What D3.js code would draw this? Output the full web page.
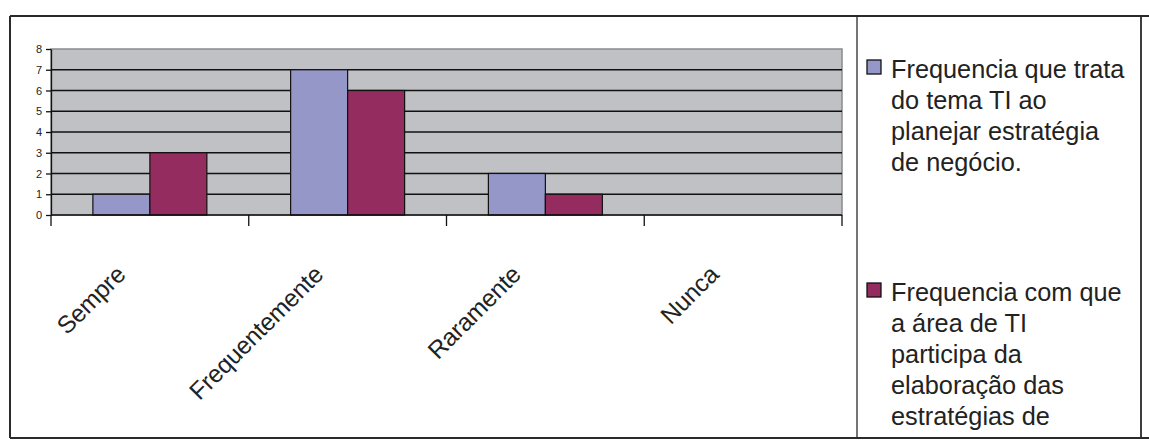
<!DOCTYPE html>
<html>
<head>
<meta charset="utf-8">
<script src="https://cdn.jsdelivr.net/npm/d3@7"></script>
<style>
  body { margin: 0; background: #fff; }
  text { font-family: "Liberation Sans", Arial, sans-serif; fill: #222; }
</style>
</head>
<body>
<script>
// Data.
const categories = ['Sempre', 'Frequentemente', 'Raramente', 'Nunca'];
const serieTrata = [1, 7, 2, 0];
const serieParticipa = [3, 6, 1, 0];
const yTicks = [0, 1, 2, 3, 4, 5, 6, 7, 8];
// Legend labels, wrapped as in the picture (the second one is cut by the cell border).
const legendTrata = ['Frequencia que trata', 'do tema TI ao', 'planejar estratégia', 'de negócio.'];
const legendParticipa = ['Frequencia com que', 'a área de TI', 'participa da', 'elaboração das', 'estratégias de'];

const colors = ['#9597c9', '#952c60'];
const series = [serieTrata, serieParticipa];

const width = 1149;
const height = 442;

// Plot area.
const plotLeft = 51;
const plotRight = 842;
const plotTop = 49;
const plotBottom = 215;

const svg = d3.select('body')
  .append('svg')
  .attr('width', width)
  .attr('height', height);

svg.append('rect')
  .attr('width', width)
  .attr('height', height)
  .attr('fill', '#fff');

// Scales.
const x0 = d3.scaleBand()
  .domain(categories)
  .range([plotLeft, plotRight]);
const x1 = d3.scaleBand()
  .domain([0, 1])
  .range([0, x0.bandwidth()])
  .paddingInner(0)
  .paddingOuter(0.735);
const y = d3.scaleLinear()
  .domain([0, 8])
  .range([plotBottom, plotTop]);

// Plot background.
svg.append('rect')
  .attr('x', plotLeft)
  .attr('y', y(8))
  .attr('width', plotRight - plotLeft)
  .attr('height', y(0) - y(8))
  .attr('fill', '#c0c1c5')
  .attr('stroke', '#8a8a8a')
  .attr('stroke-width', 1.5);

// Gridlines.
svg.append('g')
  .selectAll('line')
  .data(yTicks.filter((d) => d > 0 && d < 8))
  .enter()
  .append('line')
  .attr('x1', plotLeft)
  .attr('x2', plotRight)
  .attr('y1', (d) => y(d))
  .attr('y2', (d) => y(d))
  .attr('stroke', '#111')
  .attr('stroke-width', 1.3);

// Bars.
series.forEach((values, s) =>
{
  svg.append('g')
    .selectAll('rect')
    .data(values.map((v, i) => ({ cat: categories[i], value: v })).filter((d) => d.value > 0))
    .enter()
    .append('rect')
    .attr('x', (d) => x0(d.cat) + x1(s))
    .attr('y', (d) => y(d.value))
    .attr('width', x1.bandwidth())
    .attr('height', (d) => y(0) - y(d.value))
    .attr('fill', colors[s])
    .attr('stroke', '#111')
    .attr('stroke-width', 1.2);
});

// Y axis.
const yAxis = d3.axisLeft(y)
  .tickValues(yTicks)
  .tickSize(5)
  .tickSizeOuter(0)
  .tickPadding(4);

const gy = svg.append('g')
  .attr('transform', 'translate(' + plotLeft + ',0)')
  .call(yAxis);
gy.select('.domain').attr('stroke', '#111').attr('stroke-width', 1.3);
gy.selectAll('.tick line').attr('stroke', '#111').attr('stroke-width', 1.3);
gy.selectAll('.tick text')
  .style('font-family', '"Liberation Sans", Arial, sans-serif')
  .style('font-size', '11px')
  .attr('fill', '#222');

// X axis: line plus ticks at the category boundaries.
svg.append('line')
  .attr('x1', plotLeft)
  .attr('x2', plotRight)
  .attr('y1', y(0))
  .attr('y2', y(0))
  .attr('stroke', '#111')
  .attr('stroke-width', 1.5);

const boundaries = categories.map((c) => x0(c)).concat([x0.range()[1]]);
svg.append('g')
  .selectAll('line')
  .data(boundaries)
  .enter()
  .append('line')
  .attr('x1', (d) => d)
  .attr('x2', (d) => d)
  .attr('y1', y(0))
  .attr('y2', y(0) + 11)
  .attr('stroke', '#111')
  .attr('stroke-width', 1.3);

svg.append('g')
  .selectAll('text')
  .data(categories)
  .enter()
  .append('text')
  .attr('transform', (d) => 'translate(' + (x0(d) + x0.bandwidth() / 2 - 23) + ',' + 276 + ') rotate(-45)')
  .attr('text-anchor', 'end')
  .style('font-size', '24.5px')
  .style('letter-spacing', '-0.2px')
  .text((d) => d);

// Frame (table cells).
const frame = svg.append('g')
  .attr('stroke', '#2a2a2a')
  .attr('fill', 'none');
frame.append('line').attr('x1', 10).attr('x2', width).attr('y1', 16).attr('y2', 16).attr('stroke-width', 2);
frame.append('line').attr('x1', 10).attr('x2', width).attr('y1', 438).attr('y2', 438).attr('stroke-width', 2);
frame.append('line').attr('x1', 10).attr('x2', 10).attr('y1', 16).attr('y2', 438).attr('stroke-width', 2);
frame.append('line').attr('x1', 857).attr('x2', 857).attr('y1', 16).attr('y2', 438).attr('stroke-width', 1.3);
frame.append('line').attr('x1', 1141).attr('x2', 1141).attr('y1', 16).attr('y2', 438).attr('stroke-width', 1.8);

// Legend.
const legend = svg.append('g');

const legendItems = [
  { lines: legendTrata, top: 60 },
  { lines: legendParticipa, top: 283 }
];

legendItems.forEach((item, s) =>
{
  legend.append('rect')
    .attr('x', 867)
    .attr('y', item.top)
    .attr('width', 14)
    .attr('height', 14)
    .attr('fill', colors[s])
    .attr('stroke', '#111')
    .attr('stroke-width', 1.3);

  legend.append('g')
    .selectAll('text')
    .data(item.lines)
    .enter()
    .append('text')
    .attr('x', 891)
    .attr('y', (d, i) => item.top + 18 + i * 31)
    .style('font-size', '25.3px')
    .text((d) => d);
});
</script>
</body>
</html>
